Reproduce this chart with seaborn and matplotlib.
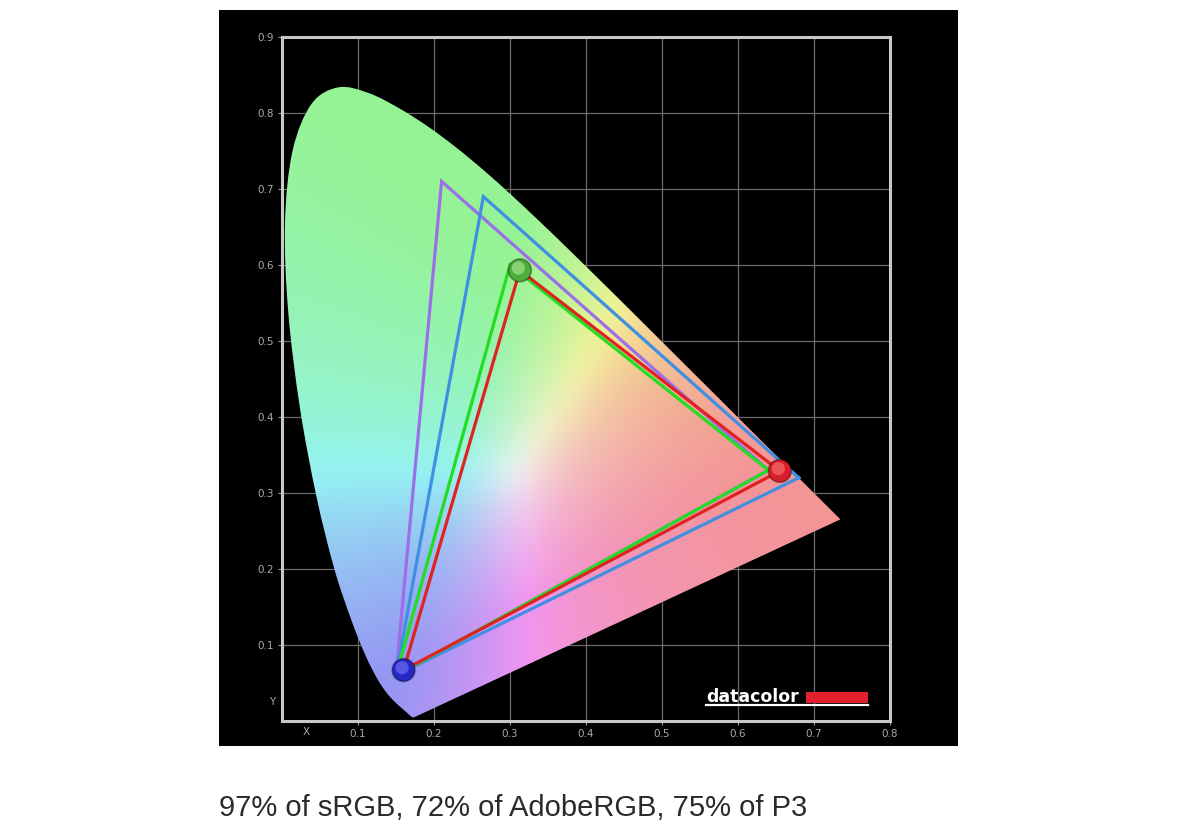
import numpy as np
import pandas as pd
import matplotlib
matplotlib.use("Agg")
import matplotlib.pyplot as plt
import seaborn as sns
from matplotlib.patches import Rectangle, PathPatch
from matplotlib.path import Path

# ---- CIE 1931 spectral locus (x, y) ----
locus_x = [0.1741, 0.1740, 0.1738, 0.1736, 0.1733, 0.1730, 0.1726, 0.1721, 0.1714, 0.1703,
           0.1689, 0.1669, 0.1644, 0.1611, 0.1566, 0.1510, 0.1440, 0.1355, 0.1241, 0.1096,
           0.0913, 0.0687, 0.0454, 0.0235, 0.0082, 0.0039, 0.0139, 0.0389, 0.0743, 0.1142,
           0.1547, 0.1929, 0.2296, 0.2658, 0.3016, 0.3373, 0.3731, 0.4087, 0.4441, 0.4788,
           0.5125, 0.5448, 0.5752, 0.6029, 0.6270, 0.6482, 0.6658, 0.6801, 0.6915, 0.7006,
           0.7079, 0.7140, 0.7190, 0.7230, 0.7260, 0.7283, 0.7300, 0.7311, 0.7320, 0.7327,
           0.7334, 0.7344, 0.7347]
locus_y = [0.0050, 0.0050, 0.0049, 0.0049, 0.0048, 0.0048, 0.0048, 0.0048, 0.0051, 0.0058,
           0.0069, 0.0086, 0.0109, 0.0138, 0.0177, 0.0227, 0.0297, 0.0399, 0.0578, 0.0868,
           0.1327, 0.2007, 0.2950, 0.4127, 0.5384, 0.6548, 0.7502, 0.8120, 0.8338, 0.8262,
           0.8059, 0.7816, 0.7543, 0.7243, 0.6923, 0.6589, 0.6245, 0.5896, 0.5547, 0.5202,
           0.4866, 0.4544, 0.4242, 0.3965, 0.3725, 0.3514, 0.3340, 0.3197, 0.3083, 0.2993,
           0.2920, 0.2859, 0.2809, 0.2770, 0.2740, 0.2717, 0.2700, 0.2689, 0.2680, 0.2673,
           0.2666, 0.2656, 0.2653]

# ---- gamut triangles (R, G, B primaries) ----
gamut_names = ["AdobeRGB", "P3", "sRGB", "Measured"]
adobe_x = [0.64, 0.21, 0.15]
adobe_y = [0.33, 0.71, 0.06]
p3_x = [0.68, 0.265, 0.15]
p3_y = [0.32, 0.69, 0.06]
srgb_x = [0.64, 0.30, 0.15]
srgb_y = [0.33, 0.60, 0.06]
meas_x = [0.655, 0.313, 0.160]
meas_y = [0.329, 0.593, 0.067]

x_ticks = [0.1, 0.2, 0.3, 0.4, 0.5, 0.6, 0.7, 0.8]
y_ticks = [0.1, 0.2, 0.3, 0.4, 0.5, 0.6, 0.7, 0.8, 0.9]
caption = "97% of sRGB, 72% of AdobeRGB, 75% of P3"

line_colors = {"AdobeRGB": "#9b6fe8", "P3": "#3f8fe3", "sRGB": "#22dd22", "Measured": "#e02222"}
sphere_colors = ["#d81e2a", "#4fae3a", "#2626c4"]
sphere_hi = ["#ff8080", "#b8f0a0", "#8080ff"]

# ---- figure ----
fig = plt.figure(figsize=(12, 8.36), dpi=100)
fig.patch.set_facecolor("white")
fig.add_artist(Rectangle((219 / 1200, 1 - 746 / 836), (958 - 219) / 1200, (746 - 10) / 836,
                         transform=fig.transFigure, facecolor="black", edgecolor="none", zorder=-10))
ax = fig.add_axes([282 / 1200, 1 - 721 / 836, (890 - 282) / 1200, (721 - 37) / 836])
ax.set_facecolor("black")
ax.set_xlim(0, 0.8)
ax.set_ylim(0, 0.9)

# chromaticity colour field
N = 700
gx = np.linspace(0, 0.8, N)
gy = np.linspace(0.0005, 0.9, N)
XX, YY = np.meshgrid(gx, gy)
Yc = np.clip(YY, 1e-4, None)
Xv = XX / Yc
Zv = (1 - XX - YY) / Yc
M = np.array([[3.2406, -1.5372, -0.4986], [-0.9689, 1.8758, 0.0415], [0.0557, -0.2040, 1.0570]])
lin = np.einsum("ij,jkl->ikl", M, np.stack([Xv, np.ones_like(Xv), Zv]))
lin = np.clip(lin, 0, None)
lin = lin / np.clip(lin.max(axis=0, keepdims=True), 1e-6, None)
rgb = np.moveaxis(lin, 0, -1)
# soften transitions
k = np.ones(41) / 41
for c in range(3):
    ch = rgb[:, :, c]
    ch = np.apply_along_axis(lambda r: np.convolve(np.pad(r, 20, mode="edge"), k, mode="valid"), 1, ch)
    ch = np.apply_along_axis(lambda r: np.convolve(np.pad(r, 20, mode="edge"), k, mode="valid"), 0, ch)
    rgb[:, :, c] = ch
rgb = 0.37 * rgb + 0.585
rgb = np.clip(rgb, 0, 1)
im = ax.imshow(rgb, extent=[0, 0.8, 0, 0.9], origin="lower", aspect="auto",
               interpolation="bilinear", zorder=1)

# smooth outline (Catmull-Rom -> Bezier) through the locus points
P = np.column_stack([locus_x, locus_y])
Pext = np.vstack([P[:1], P, P[-1:]])
verts = [P[0]]
codes = [Path.MOVETO]
for i in range(1, len(Pext) - 2):
    p0, p1, p2, p3 = Pext[i - 1], Pext[i], Pext[i + 1], Pext[i + 2]
    verts += [p1 + (p2 - p0) / 6, p2 - (p3 - p1) / 6, p2]
    codes += [Path.CURVE4] * 3
verts += [P[0], P[0]]
codes += [Path.LINETO, Path.CLOSEPOLY]
clip = PathPatch(Path(np.array(verts), codes), transform=ax.transData,
                 facecolor="none", edgecolor="none")
im.set_clip_path(clip)

# grid
for t in x_ticks[:-1]:
    ax.axvline(t, color="#6a6a6a", lw=0.9, zorder=0.5)
for t in y_ticks[:-1]:
    ax.axhline(t, color="#6a6a6a", lw=0.9, zorder=0.5)

# triangles via seaborn
rows = []
for name, xs, ys in [("AdobeRGB", adobe_x, adobe_y), ("P3", p3_x, p3_y),
                     ("sRGB", srgb_x, srgb_y), ("Measured", meas_x, meas_y)]:
    for i, (a, b) in enumerate(zip(xs + xs[:1], ys + ys[:1])):
        rows.append({"x": a, "y": b, "gamut": name, "order": i})
df = pd.DataFrame(rows)
for name in gamut_names:
    sub = df[df["gamut"] == name]
    sns.lineplot(data=sub, x="x", y="y", sort=False, estimator=None, color=line_colors[name],
                 lw=2.3, ax=ax, zorder=3, solid_joinstyle="miter", legend=False)

# measured primary spheres
sdf = pd.DataFrame({"x": meas_x, "y": meas_y, "c": ["R", "G", "B"]})
sns.scatterplot(data=sdf, x="x", y="y", hue="c", palette=dict(zip(["R", "G", "B"], sphere_colors)),
                s=270, edgecolor=(0, 0, 0, 0.35), linewidth=1.2, ax=ax, zorder=5, legend=False)
ax.scatter(np.array(meas_x) - 0.002, np.array(meas_y) + 0.003, s=90, c=sphere_hi,
           alpha=0.55, linewidths=0, zorder=6)

# frame and ticks
for sp in ax.spines.values():
    sp.set_color("#c8c8c8")
    sp.set_linewidth(2.2)
ax.set_xticks(x_ticks)
ax.set_yticks(y_ticks)
ax.set_xticklabels([f"{t:.1f}" for t in x_ticks])
ax.set_yticklabels([f"{t:.1f}" for t in y_ticks])
ax.tick_params(colors="#9a9a9a", labelcolor="#a8a8a8", labelsize=7.5, length=3, width=0.8, pad=3)
ax.set_xlabel("")
ax.set_ylabel("")
ax.text(0.032, -0.014, "X", color="#a8a8a8", fontsize=7.5, ha="center", va="center",
        transform=ax.transData, clip_on=False)
ax.text(-0.013, 0.025, "Y", color="#a8a8a8", fontsize=7.5, ha="center", va="center",
        transform=ax.transData, clip_on=False)

# datacolor logo
ax.text(0.558, 0.0318, "datacolor", color="white", fontweight="bold", fontsize=12.5,
        ha="left", va="center", family="DejaVu Sans", zorder=7)
ax.add_patch(Rectangle((0.689, 0.0235), 0.0815, 0.0145, facecolor="#e0202c", edgecolor="none", zorder=7))
ax.plot([0.558, 0.7705], [0.0205, 0.0205], color="white", lw=1.6, zorder=7)

fig.text(219 / 1200, 1 - 808 / 836, caption, fontsize=21, family="Liberation Sans",
         color="#2a2a2a", ha="left", va="center")

fig.savefig("out.png", dpi=100, facecolor="white")
